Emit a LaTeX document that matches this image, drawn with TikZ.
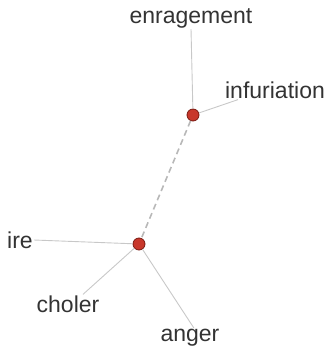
\documentclass[tikz,border=0pt]{standalone}
\usepackage{fontspec}
\setmainfont{Liberation Sans}
\definecolor{linkgrey}{HTML}{C8C8C8}
\definecolor{dashgrey}{HTML}{B8B8B8}
\definecolor{dotred}{HTML}{C8372B}
\definecolor{dotedge}{HTML}{7A1A12}
\definecolor{wordcol}{HTML}{333333}
\tikzset{
  word/.style = {text = wordcol, font = \fontsize{23}{27}\selectfont, inner sep = 1pt},
  hub/.style = {circle, fill = dotred, draw = dotedge, line width = 0.8pt, minimum size = 12pt, inner sep = 0pt},
  link/.style = {draw = linkgrey, line width = 0.9pt},
  bridge/.style = {draw = dashgrey, line width = 1.6pt, dash pattern = on 6pt off 4pt}
}
\begin{document}
\begin{tikzpicture}[x = 1pt, y = -1pt]
\useasboundingbox (0, 0) rectangle (330, 352);
% words
\node[word] (enr) at (191, 18) {enragement};
\node[word] (inf) at (275, 90) {infuriation};
\node[word] (ire) at (20, 240) {ire};
\node[word] (cho) at (68, 304) {choler};
\node[word] (ang) at (190, 338) {anger};
% hubs
\node[hub] (top) at (193, 115) {};
\node[hub] (low) at (139, 244) {};
% links
\draw[bridge] (top) -- (low);
\draw[link] (top) -- (enr.south);
\draw[link] (top) -- ([xshift = 14pt]inf.south west);
\draw[link] (low) -- (ire.east);
\draw[link] (low) -- ([xshift = 15pt]cho.north);
\draw[link] (low) -- ([xshift = 4pt]ang.north);
\end{tikzpicture}
\end{document}
